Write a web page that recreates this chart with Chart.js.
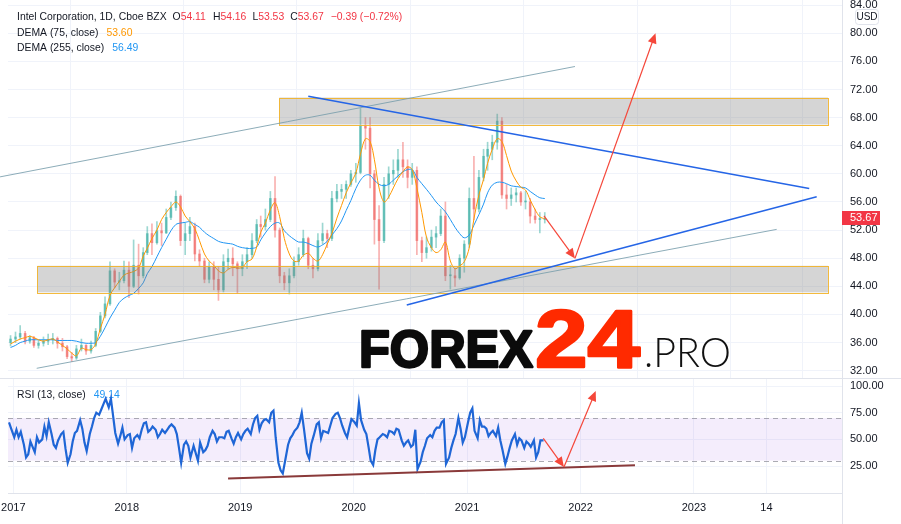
<!DOCTYPE html>
<html>
<head>
<meta charset="utf-8">
<script src="https://cdn.jsdelivr.net/npm/chart.js@4.4.1/dist/chart.umd.min.js"></script>
<style>
  html, body { margin: 0; padding: 0; background: #fff; }
  #wrap { position: relative; width: 901px; height: 524px; overflow: hidden; }
  canvas { position: absolute; left: 0; }
  #price { top: 0; }
  #rsi { top: 379px; }
  .sep { position: absolute; background: #e0e3eb; }
</style>
</head>
<body>
<div id="wrap">
  <canvas id="price" width="901" height="378"></canvas>
  <div class="sep" style="left:0;top:378px;width:901px;height:1px"></div>
  <canvas id="rsi" width="901" height="145"></canvas>
  <div class="sep" style="left:842px;top:493px;width:1px;height:31px"></div>
</div>
<script>
// ---- data (half-month candles, INTC) ----
const candleDates = [
  '2016-12-23',
  '2017-01-08','2017-01-23','2017-02-08','2017-02-23','2017-03-08','2017-03-23','2017-04-08','2017-04-23','2017-05-08','2017-05-23','2017-06-08','2017-06-23',
  '2017-07-08','2017-07-23','2017-08-08','2017-08-23','2017-09-08','2017-09-23','2017-10-08','2017-10-23','2017-11-08','2017-11-23','2017-12-08','2017-12-23',
  '2018-01-08','2018-01-23','2018-02-08','2018-02-23','2018-03-08','2018-03-23','2018-04-08','2018-04-23','2018-05-08','2018-05-23','2018-06-08','2018-06-23',
  '2018-07-08','2018-07-23','2018-08-08','2018-08-23','2018-09-08','2018-09-23','2018-10-08','2018-10-23','2018-11-08','2018-11-23','2018-12-08','2018-12-23',
  '2019-01-08','2019-01-23','2019-02-08','2019-02-23','2019-03-08','2019-03-23','2019-04-08','2019-04-23','2019-05-08','2019-05-23','2019-06-08','2019-06-23',
  '2019-07-08','2019-07-23','2019-08-08','2019-08-23','2019-09-08','2019-09-23','2019-10-08','2019-10-23','2019-11-08','2019-11-23','2019-12-08','2019-12-23',
  '2020-01-08','2020-01-23','2020-02-08','2020-02-23','2020-03-08','2020-03-23','2020-04-08','2020-04-23','2020-05-08','2020-05-23','2020-06-08','2020-06-23',
  '2020-07-08','2020-07-23','2020-08-08','2020-08-23','2020-09-08','2020-09-23','2020-10-08','2020-10-23','2020-11-08','2020-11-23','2020-12-08','2020-12-23',
  '2021-01-08','2021-01-23','2021-02-08','2021-02-23','2021-03-08','2021-03-23','2021-04-08','2021-04-23','2021-05-08','2021-05-23','2021-06-08','2021-06-23',
  '2021-07-08','2021-07-23','2021-08-08','2021-08-23','2021-09-08'
];
const firstOpen = 36.0;
const closes = [36.5,
  36.8,37.3, 36.2,36.7, 35.6,35.9, 36.2,36.4, 36.6,35.9, 35.4,34.0, 33.8,35.1, 35.6,34.8, 35.6,37.6, 39.8,41.5, 46.2,44.6, 44.8,46.3,
  44.0,47.0, 45.5,48.8, 51.5,50.2, 51.9,51.6, 53.8,55.2, 56.8,50.5, 51.5,52.5, 48.6,47.6, 45.0,46.8, 45.0,43.5, 47.5,48.0, 47.2,46.5,
  47.5,48.5, 50.5,52.8, 52.5,53.5, 56.5,52.0, 45.5,44.5, 45.5,47.5, 48.5,50.8, 47.0,46.5, 50.5,51.5, 50.8,56.5, 57.5,57.8, 58.5,60.0,
  60.2,66.8, 66.5,60.0, 53.5,50.5, 58.5,60.0, 60.5,62.0, 61.0,59.5, 60.5,50.5, 48.8,49.5, 51.0,51.5, 54.0,45.5, 45.5,45.2, 48.0,50.0,
  56.5,55.0, 59.5,62.5, 63.5,64.5, 67.5,57.0, 56.5,57.0, 57.3,56.0, 56.0,54.0, 53.5,53.5, 53.67];
const highs = [37.0,
  37.5,38.4, 37.6,37.0, 36.9,36.3, 36.8,37.2, 37.3,36.8, 36.6,35.6, 34.6,35.6, 36.5,35.7, 36.2,38.0, 40.3,42.5, 47.5,46.5, 46.0,47.6,
  47.5,50.6, 50.0,49.5, 52.5,52.9, 53.2,53.0, 55.0,56.0, 57.6,57.0, 53.0,53.8, 53.0,49.2, 48.0,47.5, 47.5,46.8, 48.5,49.3, 49.5,47.5,
  48.5,49.5, 51.5,53.5, 54.0,55.0, 57.5,59.6, 52.3,46.0, 46.5,48.2, 49.5,52.0, 51.0,48.0, 51.5,53.0, 52.0,57.5, 58.5,58.5, 59.0,60.5,
  61.5,69.3, 68.0,68.0, 60.5,55.5, 59.5,61.0, 62.0,63.5, 64.5,62.0, 61.5,61.0, 51.0,51.0, 52.0,52.5, 55.0,56.0, 47.0,46.5, 48.5,50.5,
  58.0,62.5, 60.5,63.5, 64.5,65.5, 68.5,68.0, 58.5,58.0, 58.0,57.5, 57.5,56.5, 55.0,54.5, 54.5];
const lows = [35.5,
  36.0,36.5, 35.8,35.9, 35.3,35.2, 35.5,35.7, 35.8,35.2, 34.8,33.7, 33.3,33.6, 34.8,34.3, 34.5,35.4, 37.4,39.5, 41.3,43.8, 43.5,44.5,
  42.4,43.8, 42.9,45.2, 48.5,48.5, 50.0,49.8, 51.5,53.5, 54.8,49.8, 48.5,50.5, 47.6,46.8, 44.5,44.5, 43.5,42.0, 43.2,46.5, 45.5,43.0,
  45.5,46.5, 48.0,50.2, 51.0,52.0, 53.2,51.0, 44.5,43.5, 42.9,45.2, 47.0,48.2, 46.5,45.2, 46.2,50.0, 49.5,50.5, 56.0,56.5, 56.5,58.2,
  58.8,60.0, 63.5,58.0, 50.0,43.6, 50.2,56.5, 58.5,59.5, 59.5,58.0, 58.5,48.5, 47.5,48.0, 49.0,49.5, 51.2,44.8, 43.6,44.0, 45.0,46.0,
  49.5,53.5, 54.6,59.0, 60.5,62.0, 63.5,56.5, 55.0,55.5, 56.0,55.5, 55.0,53.0, 53.0,51.6, 53.0];
const dema75 = [35.8,
  36.2,36.5,36.7,36.9,36.7,36.4,36.2,36.4,36.5,36.1,35.6,35.1,34.5,34.1,35.2,35.0,35.0,35.8,38.0,40.0,42.7,43.8,44.7,45.6,
  45.9,46.1,46.6,48.3,49.4,50.8,52.0,53.5,54.5,55.3,56.0,55.3,54.0,53.2,52.2,50.5,48.6,47.6,47.0,46.2,45.9,46.4,46.7,46.6,
  46.7,47.5,47.9,49.6,51.7,53.0,54.9,55.9,53.9,50.8,48.6,47.6,47.6,48.4,48.7,48.0,47.6,48.5,50.0,51.5,53.7,55.5,57.3,58.7,
  60.1,62.8,65.0,64.6,62.0,58.0,56.0,56.7,58.0,59.3,60.3,61.0,60.6,58.0,54.5,51.0,49.5,48.8,49.2,50.3,47.6,46.5,46.9,47.5,
  49.5,53.6,57.0,59.2,61.5,63.5,65.0,64.6,62.6,60.4,59.0,58.1,57.7,56.3,54.9,53.9,53.60];
const dema255 = [35.3,
  35.6,36.0,36.2,36.4,36.4,36.4,36.4,36.4,36.4,36.3,36.3,36.3,36.3,36.2,36.0,35.9,35.9,36.0,36.9,38.1,39.5,40.6,41.7,42.3,
  42.7,43.0,43.7,44.5,45.8,46.8,48.2,49.5,50.7,51.9,52.8,53.0,53.1,53.2,52.8,52.4,51.7,51.2,50.8,50.4,50.2,50.1,50.0,49.7,
  49.5,49.4,49.4,49.6,50.6,51.6,52.5,53.0,53.0,51.9,51.2,50.7,50.3,50.3,50.1,49.8,49.6,49.9,50.4,51.3,52.2,53.3,54.8,56.2,
  57.9,59.1,59.8,59.8,59.1,58.5,58.3,58.5,59.1,59.7,60.3,60.6,60.6,59.5,58.6,57.8,56.9,56.0,55.3,54.6,53.5,52.4,51.5,50.9,
  51.3,52.7,54.2,55.7,57.3,58.4,58.8,58.8,58.6,58.3,58.2,58.1,58.0,57.5,57.0,56.6,56.49];

// RSI(13): four weekly readings per month (days below)
const rsiMonths = [
  '2016-12',
  '2017-01','2017-02','2017-03','2017-04','2017-05','2017-06','2017-07','2017-08','2017-09','2017-10','2017-11','2017-12',
  '2018-01','2018-02','2018-03','2018-04','2018-05','2018-06','2018-07','2018-08','2018-09','2018-10','2018-11','2018-12',
  '2019-01','2019-02','2019-03','2019-04','2019-05','2019-06','2019-07','2019-08','2019-09','2019-10','2019-11','2019-12',
  '2020-01','2020-02','2020-03','2020-04','2020-05','2020-06','2020-07','2020-08','2020-09','2020-10','2020-11','2020-12',
  '2021-01','2021-02','2021-03','2021-04','2021-05','2021-06','2021-07','2021-08','2021-09'
];
const rsiDays = [4, 11, 18, 25];
const rsi = [
  null,null,66,60,
  52,59,52,57, 45,33,36,48, 43,38,52,47, 50,62,53,66, 55,45,42,49, 55,57,41,28,
  36,48,56,58, 68,60,47,39, 55,62,70,75, 73,78,83,88, 80,88,72,56, 46,53,61,50,
  54,55,42,51, 54,51,59,65, 66,57,59,62, 59,52,55,59, 56,59,62,64, 61,55,42,28,
  45,48,44,33, 44,37,30,47, 38,40,44,52, 58,55,48,52, 52,51,57,58, 51,46,52,56,
  50,55,58,60, 55,64,70,72, 59,65,68,69, 66,75,77,52, 28,21,18,29, 45,51,54,58,
  61,66,75,60, 37,32,46,53, 64,66,51,58, 57,56,63,70, 74,75,70,63, 56,52,61,69,
  66,63,84,68, 59,55,43,30, 26,40,50,52, 55,54,52,58, 57,55,60,59, 49,44,47,49,
  43,45,59,22, 29,38,44,51, 54,52,58,61, 61,66,68,27, 33,42,49,55, 70,60,47,52,
  66,75,79,58, 51,68,62,62, 60,53,56,58, 53,61,49,40, 27,34,42,49, 55,45,51,49,
  42,48,46,43, 49,33,38,49, 49.14,null,null,null
];

const priceTicks = [32, 36, 40, 44, 48, 52, 56, 60, 64, 68, 72, 76, 80, 84];
const rsiTicks = [25, 50, 75, 100];
const timeTickDates = ['2017-01-01','2018-01-01','2019-01-01','2020-01-01','2021-01-01','2022-01-01','2023-01-01','2023-08-22'];
const timeTickLabels = ['2017','2018','2019','2020','2021','2022','2023','14'];

// ---- helpers ----
function toYear(s) {
  const p = s.split('-').map(Number);
  const y = p[0], m = p[1] || 1, d = p[2] || 1;
  const t = Date.UTC(y, m - 1, d), a = Date.UTC(y, 0, 1), b = Date.UTC(y + 1, 0, 1);
  return y + (t - a) / (b - a);
}

const X_MIN = 2016.953, X_MAX = 2024.305;
const FONT = "'Liberation Sans', Arial, sans-serif";
const TEXT = '#131722';
const GRID = '#f0f3fa';
const UP = 'rgba(38,166,154,0.55)', DOWN = 'rgba(239,83,80,0.55)';
const UP_W = 'rgba(38,166,154,0.45)', DOWN_W = 'rgba(239,83,80,0.45)';

Chart.defaults.font.family = FONT;
Chart.defaults.color = TEXT;

const tx = candleDates.map(toYear);
const opens = closes.map((c, i) => i === 0 ? firstOpen : closes[i - 1]);
const isUp = closes.map((c, i) => c >= opens[i]);
const wickPts = tx.map((x, i) => ({ x, y: [lows[i], highs[i]] }));
const bodyPts = tx.map((x, i) => ({ x, y: [opens[i], closes[i]] }));
const dema75Pts = tx.map((x, i) => ({ x, y: dema75[i] }));
const dema255Pts = tx.map((x, i) => ({ x, y: dema255[i] }));

const rsiPts = [];
rsiMonths.forEach((m, mi) => {
  rsiDays.forEach((d, di) => {
    rsiPts.push({ x: toYear(m + '-' + String(d).padStart(2, '0')), y: rsi[mi * 4 + di] });
  });
});

const timeTicks = timeTickDates.map(toYear);

function timeAxis(showLabels) {
  return {
    type: 'linear', min: X_MIN, max: X_MAX, offset: false,
    afterBuildTicks: s => { s.ticks = timeTicks.map(v => ({ value: v })); },
    grid: { color: GRID, drawTicks: false },
    border: { display: showLabels, color: '#e0e3eb' },
    ticks: {
      display: showLabels, autoSkip: false, maxRotation: 0, padding: 8,
      font: { size: 11 }, color: TEXT,
      callback: (v, i) => timeTickLabels[i]
    },
    afterFit: s => {
      s.height = showLabels ? 31 : 0;
      s.paddingLeft = 0; s.paddingRight = 0; s.paddingTop = 0; s.paddingBottom = 0;
    }
  };
}

function valueAxis(min, max, ticks) {
  return {
    position: 'right', min, max,
    afterBuildTicks: s => { s.ticks = ticks.map(v => ({ value: v })); },
    grid: { color: GRID, drawTicks: false },
    border: { display: true, color: '#e0e3eb' },
    ticks: { padding: 8, font: { size: 11 }, color: TEXT, callback: v => v.toFixed(2) },
    afterFit: s => {
      s.width = 59;
      s.paddingTop = 0; s.paddingBottom = 0; s.paddingLeft = 0; s.paddingRight = 0;
    }
  };
}

// ---- drawings (in time / price units) ----
const boxes = [
  { t0: 2019.345, t1: 2024.181, p0: 67.02, p1: 70.86 },
  { t0: 2017.212, t1: 2024.181, p0: 43.14, p1: 46.92 }
];
const channelLines = [
  [2016.883, 59.57, 2021.951, 75.27],
  [2017.206, 32.34, 2023.729, 52.10]
];
const trendLines = [
  [2019.600, 71.04, 2024.016, 57.92],
  [2020.468, 41.34, 2024.082, 56.73]
];
const priceArrows = [
  [2021.678, 54.03, 2021.951, 47.97],
  [2021.951, 47.97, 2022.661, 80.00]
];
const rsiSupport = [2018.893, 13.4, 2022.480, 25.7];
const rsiArrows = [
  [2021.672, 50.9, 2021.854, 24.0],
  [2021.854, 24.0, 2022.134, 95.3]
];

function line(ctx, x0, y0, x1, y1) {
  ctx.beginPath(); ctx.moveTo(x0, y0); ctx.lineTo(x1, y1); ctx.stroke();
}
function arrow(ctx, x0, y0, x1, y1, color) {
  ctx.strokeStyle = color; ctx.fillStyle = color; ctx.lineWidth = 1.2;
  const a = Math.atan2(y1 - y0, x1 - x0), L = 11, W = 0.42;
  line(ctx, x0, y0, x1 - Math.cos(a) * 4, y1 - Math.sin(a) * 4);
  ctx.beginPath();
  ctx.moveTo(x1, y1);
  ctx.lineTo(x1 - L * Math.cos(a - W), y1 - L * Math.sin(a - W));
  ctx.lineTo(x1 - L * Math.cos(a + W), y1 - L * Math.sin(a + W));
  ctx.closePath(); ctx.fill();
}
function fitText(ctx, text, x, base, width, font, color, heavy) {
  ctx.save();
  ctx.font = font;
  const w = ctx.measureText(text).width;
  ctx.translate(x, base); ctx.scale(width / w, 1);
  ctx.fillStyle = color; ctx.textBaseline = 'alphabetic'; ctx.textAlign = 'left';
  ctx.fillText(text, 0, 0);
  if (heavy) { ctx.strokeStyle = color; ctx.lineWidth = heavy; ctx.lineJoin = 'round'; ctx.strokeText(text, 0, 0); }
  ctx.restore();
}
function legendRow(ctx, x, y, parts) {
  ctx.font = '10.4px ' + FONT; ctx.textBaseline = 'middle'; ctx.textAlign = 'left';
  parts.forEach(([t, c, gap]) => {
    x += gap || 0;
    ctx.fillStyle = c; ctx.fillText(t, x, y);
    x += ctx.measureText(t).width;
  });
}

const priceOverlay = {
  id: 'priceOverlay',
  afterDatasetsDraw(chart) {
    const { ctx, scales: { x, y } } = chart;
    const px = t => x.getPixelForValue(t), py = p => y.getPixelForValue(p);
    ctx.save();
    boxes.forEach(b => {
      const x0 = px(b.t0), x1 = px(b.t1), y0 = py(b.p1), y1 = py(b.p0);
      ctx.fillStyle = 'rgba(128,128,128,0.33)';
      ctx.fillRect(x0, y0, x1 - x0, y1 - y0);
      ctx.strokeStyle = 'rgba(242,178,40,0.9)'; ctx.lineWidth = 1;
      ctx.strokeRect(Math.round(x0) + 0.5, Math.round(y0) + 0.5, Math.round(x1 - x0), Math.round(y1 - y0));
    });
    ctx.strokeStyle = 'rgba(120,158,172,0.85)'; ctx.lineWidth = 1;
    channelLines.forEach(l => line(ctx, px(l[0]), py(l[1]), px(l[2]), py(l[3])));
    ctx.strokeStyle = '#2565e6'; ctx.lineWidth = 1.5;
    trendLines.forEach(l => line(ctx, px(l[0]), py(l[1]), px(l[2]), py(l[3])));
    priceArrows.forEach(l => arrow(ctx, px(l[0]), py(l[1]), px(l[2]), py(l[3]), '#f5473a'));

    // watermark
    fitText(ctx, 'FOREX', 359, 367, 174, 'bold 52px ' + FONT, '#0b0b0b', 2.4);
    fitText(ctx, '24', 535, 367, 105, 'bold 82px ' + FONT, '#ff2a00', 2.6);
    fitText(ctx, '.PRO', 644, 367, 87, "300 42px Lato, 'Open Sans', sans-serif", '#111111');
    ctx.restore();
  },
  afterDraw(chart) {
    const { ctx, scales: { y }, chartArea } = chart;
    ctx.save();
    legendRow(ctx, 17, 17, [
      ['Intel Corporation, 1D, Cboe BZX', TEXT],
      ['O', TEXT, 6], ['54.11', '#f23645'],
      ['H', TEXT, 7], ['54.16', '#f23645'],
      ['L', TEXT, 6], ['53.53', '#f23645'],
      ['C', TEXT, 6], ['53.67', '#f23645'],
      ['\u22120.39 (\u22120.72%)', '#f23645', 7]
    ]);
    legendRow(ctx, 17, 33, [['DEMA (75, close)', TEXT], ['53.60', '#ff9800', 8]]);
    legendRow(ctx, 17, 48, [['DEMA (255, close)', TEXT], ['56.49', '#2196f3', 8]]);

    // last price tag
    const ly = Math.round(y.getPixelForValue(closes[closes.length - 1]));
    ctx.fillStyle = '#f23645';
    ctx.fillRect(chartArea.right, ly - 7, 38, 14);
    ctx.fillStyle = '#fff'; ctx.font = '11px ' + FONT;
    ctx.textBaseline = 'middle'; ctx.textAlign = 'left';
    ctx.fillText(closes[closes.length - 1].toFixed(2), chartArea.right + 8, ly);

    // currency box
    ctx.fillStyle = '#fff'; ctx.strokeStyle = '#e0e3eb'; ctx.lineWidth = 1;
    ctx.beginPath(); ctx.roundRect(855.5, 9.5, 23, 15, 3); ctx.fill(); ctx.stroke();
    ctx.fillStyle = TEXT; ctx.font = '10px ' + FONT; ctx.textAlign = 'center';
    ctx.fillText('USD', 867, 17.5);
    ctx.restore();
  }
};

new Chart(document.getElementById('price'), {
  type: 'bar',
  data: {
    datasets: [
      { type: 'line', data: dema75Pts, borderColor: '#ff9800', borderWidth: 1, pointRadius: 0, tension: 0.35, order: 1 },
      { type: 'line', data: dema255Pts, borderColor: '#2196f3', borderWidth: 1, pointRadius: 0, tension: 0.35, order: 2 },
      { data: bodyPts, backgroundColor: isUp.map(u => u ? UP : DOWN), barThickness: 2, minBarLength: 1, grouped: false, order: 3 },
      { data: wickPts, backgroundColor: isUp.map(u => u ? UP_W : DOWN_W), barThickness: 1, grouped: false, order: 4 }
    ]
  },
  options: {
    responsive: false, animation: false, devicePixelRatio: 1,
    layout: { autoPadding: false, padding: { left: 8, right: 0, top: 0, bottom: 0 } },
    plugins: { legend: { display: false }, tooltip: { enabled: false } },
    scales: { x: timeAxis(false), y: valueAxis(30.96, 84.73, priceTicks) }
  },
  plugins: [priceOverlay]
});

const rsiOverlay = {
  id: 'rsiOverlay',
  beforeDatasetsDraw(chart) {
    const { ctx, chartArea: a, scales: { y } } = chart;
    ctx.save();
    const y70 = y.getPixelForValue(70), y30 = y.getPixelForValue(30);
    ctx.fillStyle = 'rgba(150,80,230,0.10)';
    ctx.fillRect(a.left, y70, a.right - a.left, y30 - y70);
    ctx.strokeStyle = 'rgba(150,150,160,0.8)'; ctx.lineWidth = 1; ctx.setLineDash([5, 4]);
    line(ctx, a.left, Math.round(y70) + 0.5, a.right, Math.round(y70) + 0.5);
    line(ctx, a.left, Math.round(y30) + 0.5, a.right, Math.round(y30) + 0.5);
    ctx.setLineDash([]);
    legendRow(ctx, 17, 16, [['RSI (13, close)', TEXT], ['49.14', '#2196f3', 8]]);
    ctx.restore();
  },
  afterDatasetsDraw(chart) {
    const { ctx, scales: { x, y } } = chart;
    const px = t => x.getPixelForValue(t), py = p => y.getPixelForValue(p);
    ctx.save();
    ctx.strokeStyle = '#8a3a3a'; ctx.lineWidth = 2;
    line(ctx, px(rsiSupport[0]), py(rsiSupport[1]), px(rsiSupport[2]), py(rsiSupport[3]));
    rsiArrows.forEach(l => arrow(ctx, px(l[0]), py(l[1]), px(l[2]), py(l[3]), '#f5473a'));
    ctx.restore();
  }
};

new Chart(document.getElementById('rsi'), {
  type: 'line',
  data: {
    datasets: [
      { data: rsiPts, borderColor: '#1f66d6', borderWidth: 2.2, pointRadius: 0, tension: 0, spanGaps: false }
    ]
  },
  options: {
    responsive: false, animation: false, devicePixelRatio: 1,
    layout: { autoPadding: false, padding: { left: 8, right: 0, top: 0, bottom: 0 } },
    plugins: { legend: { display: false }, tooltip: { enabled: false } },
    scales: { x: timeAxis(true), y: valueAxis(-0.3, 106.6, rsiTicks) }
  },
  plugins: [rsiOverlay]
});
</script>
</body>
</html>
